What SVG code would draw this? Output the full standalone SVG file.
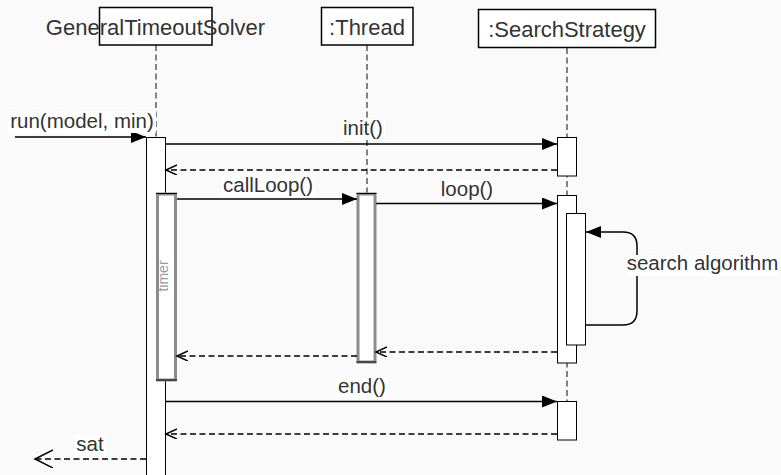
<svg xmlns="http://www.w3.org/2000/svg" width="781" height="475" viewBox="0 0 781 475">
  <style>
    .hdr { fill: #ffffff; stroke: #000000; stroke-width: 1.5; }
    .hdrtxt { font-family: "Liberation Sans", Arial, sans-serif; font-size: 22px; fill: #333333; text-anchor: middle; }
    .lbl { font-family: "Liberation Sans", Arial, sans-serif; font-size: 20.5px; fill: #333333; text-anchor: middle; }
    .lblbg { fill: #ffffff; stroke: none; }
    .life { stroke: #333333; stroke-width: 1.2; stroke-dasharray: 6 3.5; fill: none; }
    .act { fill: #ffffff; stroke: #000000; stroke-width: 1; }
    .actsoft { fill: #ffffff; stroke: #8c8c8c; stroke-width: 3; }
    .edge { stroke: #000000; stroke-width: 1.5; fill: none; }
    .call { marker-end: url(#block); }
    .ret { stroke-dasharray: 6 3.5; marker-end: url(#open); }
    .timer { font-family: "Liberation Sans", Arial, sans-serif; font-size: 14px; fill: #999999; text-anchor: middle; }
  </style>
  <defs>
    <marker id="block" markerUnits="userSpaceOnUse" markerWidth="16" markerHeight="14" refX="15" refY="6" orient="auto">
      <path d="M0,0 L15,6 L0,12 Z" fill="#000000"/>
    </marker>
    <marker id="open" markerUnits="userSpaceOnUse" markerWidth="14" markerHeight="12" refX="11" refY="5" orient="auto">
      <path d="M0,0 L11,5 L0,10" fill="none" stroke="#000000" stroke-width="1.5"/>
    </marker>
    <marker id="openbig" markerUnits="userSpaceOnUse" markerWidth="20" markerHeight="20" refX="18" refY="9" orient="auto">
      <path d="M0,0 L18,9 L0,18" fill="none" stroke="#000000" stroke-width="1.5"/>
    </marker>
  </defs>

  <rect x="0" y="0" width="781" height="475" fill="#fafafa"/>

  <g id="lifelines">
    <line class="life" x1="156" y1="45" x2="156" y2="475"/>
    <line class="life" x1="367" y1="45" x2="367" y2="193"/>
    <line class="life" x1="567" y1="48" x2="567" y2="440"/>
  </g>

  <g id="GeneralTimeoutSolver">
    <rect class="hdr" x="99.5" y="7.5" width="112.5" height="37.5"/>
    <text class="hdrtxt" x="155.5" y="34.5">GeneralTimeoutSolver</text>
  </g>
  <g id="Thread">
    <rect class="hdr" x="321.5" y="7.5" width="91.5" height="37.5"/>
    <text class="hdrtxt" x="367" y="34.5">:Thread</text>
  </g>
  <g id="SearchStrategy">
    <rect class="hdr" x="478.5" y="9.5" width="177" height="38"/>
    <text class="hdrtxt" x="567" y="36.5">:SearchStrategy</text>
  </g>

  <g id="activations">
    <g id="act-solver">
      <rect class="act" x="146.5" y="137.5" width="19" height="345"/>
    </g>
    <g id="act-timer">
      <rect class="actsoft" x="157.5" y="194" width="18" height="186"/>
      <line x1="156" y1="193.5" x2="177" y2="193.5" stroke="#000000" stroke-width="1"/>
      <line x1="156" y1="380" x2="177" y2="380" stroke="#000000" stroke-width="1"/>
      <text class="timer" transform="translate(168,276) rotate(-90)">timer</text>
    </g>
    <g id="act-thread">
      <rect class="actsoft" x="358" y="194" width="17" height="168"/>
      <line x1="356.5" y1="193.5" x2="376.5" y2="193.5" stroke="#000000" stroke-width="1"/>
      <line x1="356.5" y1="362" x2="376.5" y2="362" stroke="#000000" stroke-width="1"/>
    </g>
    <g id="act-ss-init">
      <rect class="act" x="557.5" y="137.5" width="19" height="38.5"/>
    </g>
    <g id="act-ss-loop">
      <rect class="act" x="557.5" y="195.5" width="19" height="167.5"/>
    </g>
    <g id="act-ss-search">
      <rect class="act" x="566.5" y="213.5" width="19" height="131.5"/>
    </g>
    <g id="act-ss-end">
      <rect class="act" x="557.5" y="401.5" width="19" height="38.5"/>
    </g>
  </g>

  <g id="connectors">
    <line class="edge call" x1="15" y1="137" x2="146" y2="137"/>
    <line class="edge call" x1="166" y1="144" x2="557" y2="144"/>
    <line class="edge ret" x1="557" y1="170" x2="166" y2="170"/>
    <line class="edge call" x1="177" y1="199" x2="357" y2="199"/>
    <line class="edge call" x1="376" y1="203.5" x2="557" y2="203.5"/>
    <path class="edge call" d="M586,325 H623 Q637,325 637,311 V246 Q637,232 623,232 H586"/>
    <line class="edge ret" x1="557" y1="352" x2="376" y2="352"/>
    <line class="edge ret" x1="357" y1="356" x2="177" y2="356"/>
    <line class="edge call" x1="166" y1="401.5" x2="557" y2="401.5"/>
    <line class="edge ret" x1="557" y1="434" x2="166" y2="434"/>
    <line class="edge" x1="146" y1="459" x2="35" y2="459" stroke-dasharray="6 3.5" marker-end="url(#openbig)"/>
  </g>

  <g id="labels">
    <rect class="lblbg" x="8" y="111" width="148" height="22"/>
    <text class="lbl" x="82" y="128">run(model, min)</text>
    <rect class="lblbg" x="341" y="119" width="44" height="21"/>
    <text class="lbl" x="363" y="135">init()</text>
    <rect class="lblbg" x="221" y="176" width="94" height="21"/>
    <text class="lbl" x="268" y="192">callLoop()</text>
    <rect class="lblbg" x="441" y="180" width="53" height="21"/>
    <text class="lbl" x="467" y="196">loop()</text>
    <rect class="lblbg" x="627" y="255" width="151" height="21"/>
    <text class="lbl" x="702.5" y="270">search algorithm</text>
    <rect class="lblbg" x="336" y="378" width="52" height="21"/>
    <text class="lbl" x="362" y="393">end()</text>
    <rect class="lblbg" x="74" y="435" width="32" height="20"/>
    <text class="lbl" x="90" y="451">sat</text>
  </g>
</svg>
